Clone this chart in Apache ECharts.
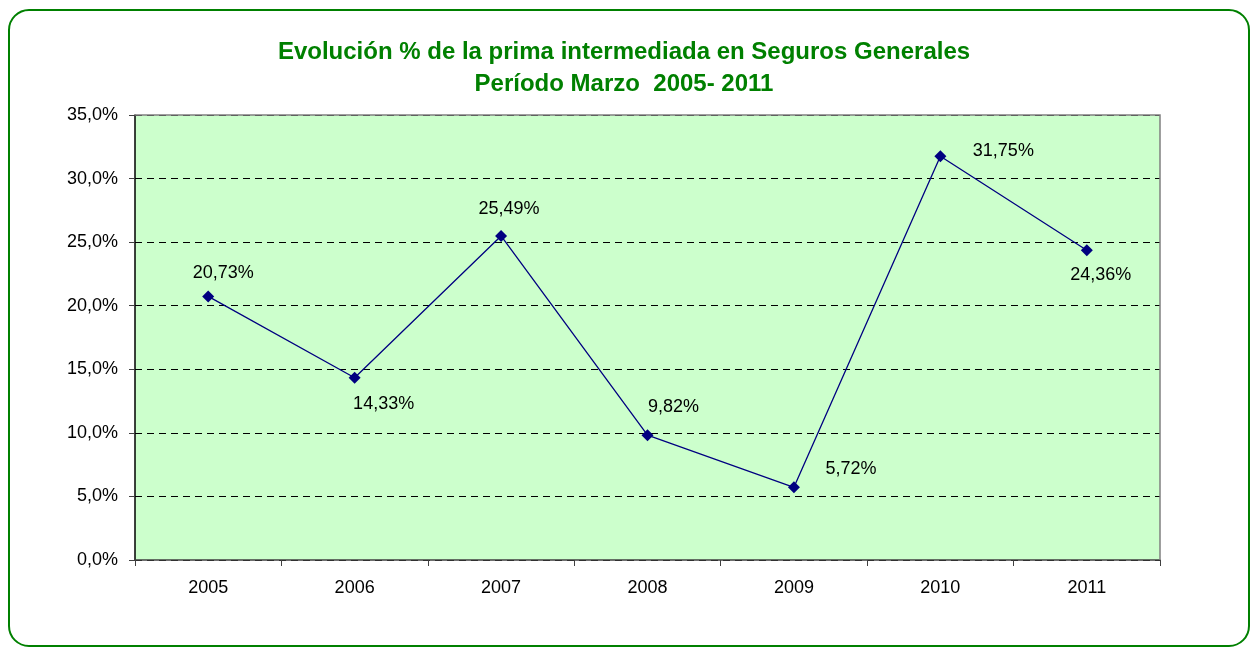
<!DOCTYPE html>
<html>
<head>
<meta charset="utf-8">
<script src="https://cdn.jsdelivr.net/npm/echarts@6/dist/echarts.min.js"></script>
<style>
html, body { margin: 0; padding: 0; background: #fff; }
#chart { width: 1253px; height: 648px; }
</style>
</head>
<body>
<div id="chart"></div>
<script>
// datos
var years = ['2005', '2006', '2007', '2008', '2009', '2010', '2011'];
var prima = [20.73, 14.33, 25.49, 9.82, 5.72, 31.75, 24.36];

// desplazamiento de cada etiqueta respecto al punto (solo estilo)
var labelOffsets = [[15, -23], [29, 26], [8, -27], [26, -28], [57, -18], [63, -5], [14, 25]];

var chart = echarts.init(document.getElementById('chart'));

var seriesData = [];
for (var i = 0; i < prima.length; i++) {
    seriesData.push({
        value: prima[i],
        label: { offset: labelOffsets[i] }
    });
}

chart.setOption({
    animation: false,
    textStyle: { fontFamily: 'Liberation Sans, Arial, sans-serif' },
    title: {
        text: 'Evolución % de la prima intermediada en Seguros Generales\nPeríodo Marzo  2005- 2011',
        left: 619,
        textAlign: 'center',
        top: 31,
        textStyle: {
            color: '#008000',
            fontSize: 24,
            fontWeight: 'bold',
            lineHeight: 32
        }
    },
    graphic: [{
        type: 'rect',
        silent: true,
        shape: { x: 9, y: 10, width: 1240, height: 636, r: 20 },
        style: { fill: 'none', stroke: '#008000', lineWidth: 2 }
    }, {
        type: 'polyline',
        silent: true,
        z: 1,
        shape: { points: [[135, 115], [1160, 115], [1160, 560]] },
        style: { stroke: '#808080', lineWidth: 1.5, fill: 'none' }
    }],
    grid: {
        left: 135, right: 93, top: 115, bottom: 88,
        show: true,
        backgroundColor: '#ccffcc',
        borderWidth: 0
    },
    xAxis: {
        type: 'category',
        data: years,
        boundaryGap: true,
        axisLine: { lineStyle: { color: '#404040', width: 1.5 } },
        axisTick: { show: true, length: 6, lineStyle: { color: '#404040' } },
        axisLabel: { color: '#000', fontSize: 18, margin: 19 }
    },
    yAxis: {
        type: 'value',
        min: 0, max: 35, interval: 5,
        axisLine: { show: true, lineStyle: { color: '#000', width: 1.5 } },
        axisTick: { show: true, length: 6, inside: false, lineStyle: { color: '#404040' } },
        axisLabel: {
            color: '#000', fontSize: 18, margin: 17,
            formatter: function (v) { return v.toFixed(1).replace('.', ',') + '%'; }
        },
        splitLine: { lineStyle: { color: '#000', type: [7, 5], width: 1 } }
    },
    series: [{
        type: 'line',
        data: seriesData,
        symbol: 'diamond',
        symbolSize: 12,
        itemStyle: { color: '#000080' },
        lineStyle: { color: '#000080', width: 1.3 },
        z: 3,
        label: {
            show: true,
            position: 'inside',
            align: 'center',
            verticalAlign: 'middle',
            color: '#000',
            fontSize: 18,
            formatter: function (p) { return p.value.toFixed(2).replace('.', ',') + '%'; }
        }
    }]
});
</script>
</body>
</html>
